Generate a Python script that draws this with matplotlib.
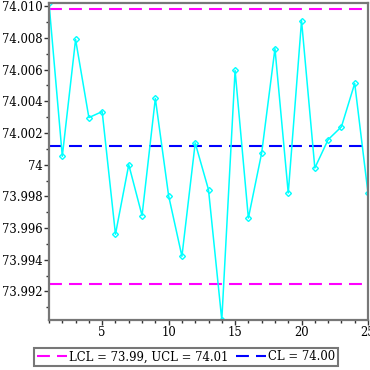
import matplotlib
matplotlib.use("Agg")
import matplotlib.pyplot as plt
from matplotlib.ticker import MultipleLocator, FixedLocator

samples = list(range(1, 26))
values = [74.0102, 74.00053, 74.0079, 74.00297, 74.00335, 73.99561, 74.0000, 73.99679,
          74.00418, 73.99804, 73.99422, 74.00137, 73.99842, 73.9902, 74.00595, 73.99663,
          74.00074, 74.00732, 73.99821, 74.00909, 73.99979, 74.00158, 74.00239, 74.00513,
          73.99821]
CL = 74.00116
UCL = 74.00981
LCL = 73.99247
ytick_vals = [73.992, 73.994, 73.996, 73.998, 74.0, 74.002, 74.004, 74.006, 74.008, 74.010]
ytick_labels = ["73.992", "73.994", "73.996", "73.998", "74", "74.002", "74.004", "74.006", "74.008", "74.010"]
xtick_vals = [5, 10, 15, 20, 25]

plt.rcParams['font.family'] = ['DejaVu Serif']
fig = plt.figure(figsize=(3.7, 3.7), dpi=100)
ax = fig.add_axes([49/370, 1-320/370, (368-49)/370, (320-3)/370])

dash = (0, (6.2, 3.4))
l1, = ax.plot([1, 25], [LCL, LCL], color='#ff00ff', lw=1.5, linestyle=dash)
ax.plot([1, 25], [UCL, UCL], color='#ff00ff', lw=1.5, linestyle=dash)
l2, = ax.plot([1, 25], [CL, CL], color='#0000ff', lw=1.5, linestyle=dash)
ax.plot(samples, values, color='#00ffff', lw=1.1, marker='D', markersize=3,
        markerfacecolor='none', markeredgecolor='#00ffff', markeredgewidth=1)

ax.set_xlim(1, 25)
ax.set_ylim(min(values), max(values))
ax.yaxis.set_major_locator(FixedLocator(ytick_vals))
ax.set_yticklabels(ytick_labels)
ax.yaxis.set_minor_locator(MultipleLocator(0.001))
ax.xaxis.set_major_locator(FixedLocator(xtick_vals))
ax.xaxis.set_minor_locator(MultipleLocator(1))
ax.tick_params(axis='both', which='major', labelsize=8.4, length=3.6, width=1, color='#333333', pad=1)
ax.tick_params(axis='both', which='minor', length=2.2, width=1, color='#333333')
for s in ax.spines.values():
    s.set_color('#777777')
    s.set_linewidth(1.6)

leg = fig.legend([l1, l2], ["LCL = 73.99, UCL = 74.01", "CL = 74.00"], ncol=2,
                 loc='center', bbox_to_anchor=(186/370, 1-357/370), fontsize=8.4,
                 fancybox=False, framealpha=1, edgecolor='#777777', handlelength=2.6,
                 handletextpad=0.2, columnspacing=0.6, borderpad=0.25, borderaxespad=0)
leg.get_frame().set_linewidth(1.5)
fig.savefig("out.png", dpi=100)
